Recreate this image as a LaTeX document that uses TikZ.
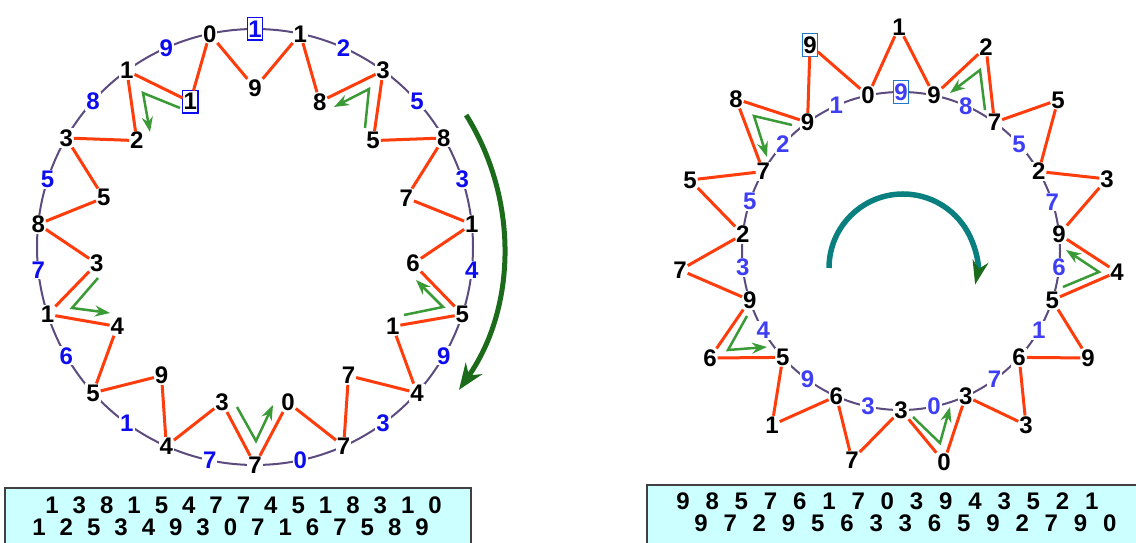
\documentclass[tikz,border=0pt]{standalone}
\usepackage{fontspec}
\setmainfont{Liberation Sans}
\usetikzlibrary{calc,arrows.meta}
\definecolor{ringc}{HTML}{5C4B7E}
\definecolor{zigc}{HTML}{FF3C0C}
\definecolor{lbluec}{HTML}{0C0CEE}
\definecolor{rbluec}{HTML}{3E3EF4}
\definecolor{rboxc}{HTML}{1F78C8}
\definecolor{hintc}{HTML}{3A9A35}
\definecolor{turnc}{HTML}{1B6B1B}
\definecolor{tealc}{HTML}{0A7F7F}
\definecolor{panelc}{HTML}{CCFFFF}
\tikzset{
  dig/.style={font=\bfseries\fontsize{24}{24}\selectfont,fill=white,inner sep=1pt,outer sep=0pt},
  cell/.style={font=\bfseries\fontsize{24}{24}\selectfont,inner sep=0pt},
  lnum/.style={text=lbluec},
  rnum/.style={text=rbluec},
  lframe/.style={draw=lbluec,line width=1.5pt,inner ysep=3pt},
  rframe/.style={draw=rboxc,line width=1.5pt,inner ysep=3pt},
  ring/.style={draw=ringc,line width=2pt},
  zig/.style={draw=zigc,line width=3pt},
  hint/.style={draw=hintc,line width=2.5pt,-{Stealth[length=15pt,width=11pt]}},
  panel/.style={fill=panelc,draw=black!75,line width=1.2pt}
}
\begin{document}
\begin{tikzpicture}[x=1pt,y=1pt]
  \useasboundingbox (0,0) rectangle (1136,543);
  \coordinate (lc) at (255,296); \coordinate (rc) at (901,292); \coordinate (rt) at (903,275);
  \draw[ring] (lc) circle[radius=218];
  \draw[ring] (rc) circle[radius=159];

  \foreach \d [count=\k] in {1,3,8,1,5,4,7,7,4,5,1,8,3,1,0}
    \node[dig] (lo\k) at ($(lc)+({102-24*\k}:218)$) {\d};
  \node[dig,lnum,lframe] (lb1) at ($(lc)+(90:218)$) {1};
  \foreach \d [count=\k from 2] in {2,5,3,4,9,3,0,7,1,6,7,5,8,9}
    \node[dig,lnum] (lb\k) at ($(lc)+({114-24*\k}:218)$) {\d};
  \foreach \d [count=\k] in {9,8,5,7,6,1,7,0,3,9,4,3,5,2}
    \node[dig] (lt\k) at ($(lc)+({114-24*\k}:159)$) {\d};
  \node[dig,lframe] (lt15) at ($(lc)+(114:159)$) {1};
  \foreach \k [remember=\k as \j (initially 15)] in {1,...,15}
    \draw[zig] (lo\j) -- (lt\k) -- (lo\k);

  \foreach \d [count=\k] in {9,7,2,9,5,6,3,3,6,5,9,2,7,9,0}
    \node[dig] (ro\k) at ($(rc)+({102-24*\k}:159)$) {\d};
  \node[dig,rnum,rframe] (rb1) at ($(rc)+(90:159)$) {9};
  \foreach \d [count=\k from 2] in {8,5,7,6,1,7,0,3,9,4,3,5,2,1}
    \node[dig,rnum] (rb\k) at ($(rc)+({114-24*\k}:159)$) {\d};
  \foreach \d/\x/\y [count=\k] in {1/899/516,2/986/496,5/1058/443,3/1107/364,4/1117/271,
      9/1088/185,3/1026/118,0/944/81,7/852/83,1/772/118,6/710/185,7/680/273,5/690/363,8/736/444}
    \node[dig] (rt\k) at (\x,\y) {\d};
  \node[dig,rframe] (rt15) at (810,498) {9};
  \foreach \k [remember=\k as \j (initially 15)] in {1,...,15}
    \draw[zig] (ro\j) -- (rt\k) -- (ro\k);

  \draw[hint] (180,435) -- (143,450) -- (150,411);
  \draw[hint] (365,415) -- (369,454) -- (334,436);
  \draw[hint] (98,265) -- (72,235) -- (110,230);
  \draw[hint] (237,136) -- (256,102) -- (273,138);
  \draw[hint] (404,228) -- (443,236) -- (416,263);
  \draw[hint] (792,418) -- (754,427) -- (767,386);
  \draw[hint] (985,433) -- (980,473) -- (950,450);
  \draw[hint] (747,227) -- (728,193) -- (767,196);
  \draw[hint] (913,126) -- (940,100) -- (950,136);
  \draw[hint] (1063,256) -- (1099,271) -- (1066,293);

  \draw[draw=turnc,line width=5pt,-{Stealth[length=26pt,width=20pt]}]
    ($(lc)+(32:249)$) arc[start angle=32,end angle=-35,radius=249];
  \draw[draw=tealc,line width=5.5pt,-{Stealth[color=turnc,length=24pt,width=16pt]}]
    ($(rt)+(180:74)$) arc[start angle=180,end angle=-13,radius=74];

  \draw[panel] (5,55) rectangle (471,-20);
  \draw[panel] (647,58) rectangle (1150,-20);
  \foreach \d [count=\i from 0] in {1,3,8,1,5,4,7,7,4,5,1,8,3,1,0}
    \node[cell] (la\i) at (52+27.36*\i,38) {\d};
  \foreach \d [count=\i from 0] in {1,2,5,3,4,9,3,0,7,1,6,7,5,8,9}
    \node[cell] (lb\i) at (39+27.36*\i,16) {\d};
  \foreach \d [count=\i from 0] in {9,8,5,7,6,1,7,0,3,9,4,3,5,2,1}
    \node[cell] (ra\i) at (683+29.2*\i,41.5) {\d};
  \foreach \d [count=\i from 0] in {9,7,2,9,5,6,3,3,6,5,9,2,7,9,0}
    \node[cell] (rb\i) at (701+29.2*\i,19.5) {\d};
\end{tikzpicture}
\end{document}
